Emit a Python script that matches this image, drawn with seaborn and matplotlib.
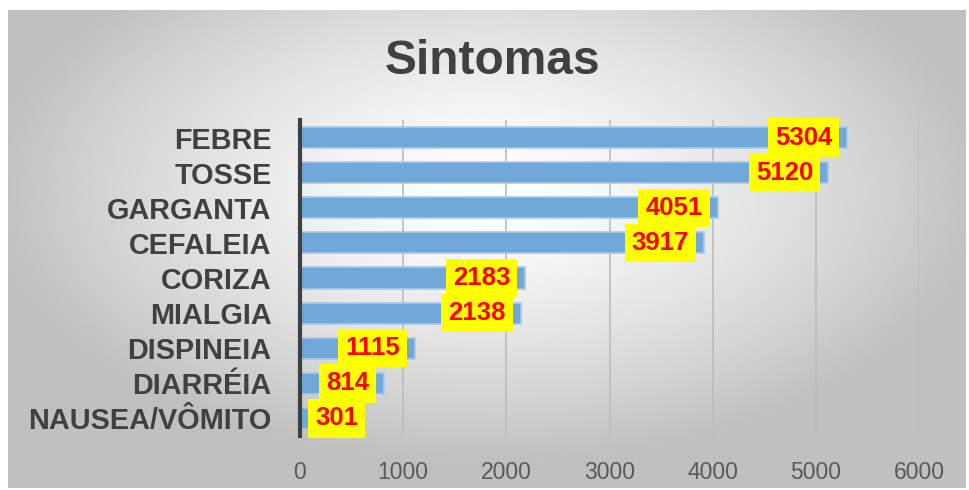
import numpy as np
import pandas as pd
import matplotlib
matplotlib.use("Agg")
import matplotlib.pyplot as plt
import seaborn as sns

# dados do gráfico
sintomas = ["FEBRE", "TOSSE", "GARGANTA", "CEFALEIA", "CORIZA",
            "MIALGIA", "DISPINEIA", "DIARRÉIA", "NAUSEA/VÔMITO"]
casos = [5304, 5120, 4051, 3917, 2183, 2138, 1115, 814, 301]
ticks_x = [0, 1000, 2000, 3000, 4000, 5000, 6000]

df = pd.DataFrame({"Sintoma": sintomas, "Casos": casos})

sns.set_style("white")
plt.rcParams["font.family"] = ["Liberation Sans", "DejaVu Sans"]

fig = plt.figure(figsize=(9.69, 4.90), dpi=100)
fig.patch.set_facecolor("white")

# fundo com degradê radial (estilo Excel)
bg = fig.add_axes([8 / 969, 2 / 490, 958 / 969, 478 / 490])
gx, gy = np.meshgrid(np.linspace(-1, 1, 400), np.linspace(-1, 1, 200))
r = np.sqrt((gx / 1.05) ** 2 + ((gy + 0.25) / 1.15) ** 2)
r = np.clip(r, 0, 1)
shade = 1.0 - 0.25 * r ** 1.4
bg.imshow(shade, cmap="gray", vmin=0, vmax=1, aspect="auto",
          extent=[0, 1, 0, 1], interpolation="bilinear")
bg.set_axis_off()

ax = fig.add_axes([300 / 969, 54 / 490, 619 / 969, 316 / 490])
ax.set_facecolor("none")

sns.barplot(data=df, x="Casos", y="Sintoma", orient="h", ax=ax,
            color="#70a8da", saturation=1, width=0.6,
            edgecolor="#a9c9ea", linewidth=1.2)

ax.set_xlim(0, 6000)
ax.set_xticks(ticks_x)
ax.set_xticklabels([str(t) for t in ticks_x], fontsize=16.5, color="#595959")
ax.tick_params(axis="x", length=0, pad=18)
ax.tick_params(axis="y", length=0, pad=20.5)
for lbl in ax.get_yticklabels():
    lbl.set_fontsize(20.8)
    lbl.set_fontweight("bold")
    lbl.set_color("#404040")

ax.grid(axis="x", color="#bcbcbc", linewidth=1.2)
ax.set_axisbelow(True)
for s in ["top", "right", "bottom"]:
    ax.spines[s].set_visible(False)
ax.spines["left"].set_color("#404040")
ax.spines["left"].set_linewidth(3)
ax.set_xlabel("")
ax.set_ylabel("")

# rótulos de dados
caixa = dict(boxstyle="square,pad=0.28", facecolor="#ffff00", edgecolor="none")
for i, v in enumerate(casos):
    if v > 700:
        ax.annotate(str(v), xy=(v, i), xytext=(-15, 0), textcoords="offset pixels",
                    ha="right", va="center", fontsize=18.5, fontweight="bold",
                    color="#ff0000", bbox=caixa)
    else:
        ax.annotate(str(v), xy=(0, i), xytext=(15, 0), textcoords="offset pixels",
                    ha="left", va="center", fontsize=18.5, fontweight="bold",
                    color="#ff0000", bbox=caixa)

fig.text(492 / 969, 1 - 61 / 490, "Sintomas", ha="center", va="center",
         fontsize=34.5, fontweight="bold", color="#404040")

fig.savefig("out.png", dpi=100)
